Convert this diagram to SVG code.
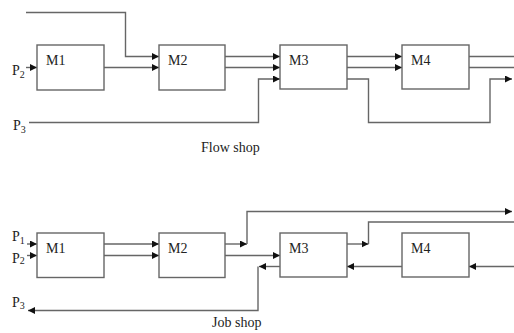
<svg xmlns="http://www.w3.org/2000/svg" width="514" height="333" viewBox="0 0 514 333">
<style>
.box{fill:#fff;stroke:#666;stroke-width:1.4}
.ln{fill:none;stroke:#666;stroke-width:1.4}
.arr{marker-end:url(#ah)}
text{font-family:"Liberation Serif","Times New Roman",serif;fill:#222;font-size:14px}
.sub{font-size:10px}
</style>
<defs>
<marker id="ah" viewBox="0 0 10 10" refX="10" refY="5" markerWidth="7" markerHeight="7" markerUnits="userSpaceOnUse" orient="auto">
<path d="M0,0 L10,5 L0,10 z" fill="#111"/>
</marker>
</defs>
<rect width="514" height="333" fill="#fff"/>
<g id="connectors">
<!-- Flow shop -->
<polyline class="ln arr" points="26,12.5 125.5,12.5 125.5,56.5 159,56.5"/>
<line class="ln arr" x1="26" y1="67.5" x2="37" y2="67.5"/>
<line class="ln arr" x1="104" y1="67.5" x2="159" y2="67.5"/>
<line class="ln arr" x1="225" y1="56.5" x2="280" y2="56.5"/>
<line class="ln arr" x1="225" y1="67.5" x2="280" y2="67.5"/>
<polyline class="ln arr" points="29,122.5 258.5,122.5 258.5,79 280,79"/>
<line class="ln arr" x1="347" y1="56.5" x2="402" y2="56.5"/>
<line class="ln arr" x1="347" y1="67.5" x2="402" y2="67.5"/>
<polyline class="ln arr" points="347,79 368.5,79 368.5,122.5 490,122.5 490,79 512,79"/>
<line class="ln" x1="469" y1="56.5" x2="514" y2="56.5"/>
<line class="ln" x1="469" y1="67.5" x2="514" y2="67.5"/>
<!-- Job shop -->
<line class="ln arr" x1="27" y1="244" x2="37" y2="244"/>
<line class="ln arr" x1="27" y1="255.5" x2="37" y2="255.5"/>
<line class="ln arr" x1="104" y1="244" x2="159" y2="244"/>
<line class="ln arr" x1="104" y1="255.5" x2="159" y2="255.5"/>
<line class="ln arr" x1="225" y1="244" x2="247" y2="244"/>
<polyline class="ln arr" points="247,244 247,211.5 512,211.5"/>
<line class="ln arr" x1="225" y1="255.5" x2="280" y2="255.5"/>
<line class="ln arr" x1="280" y1="266.5" x2="259" y2="266.5"/>
<polyline class="ln arr" points="258,266.5 258,310.5 28,310.5"/>
<line class="ln arr" x1="347" y1="244" x2="368.5" y2="244"/>
<polyline class="ln" points="368.5,244 368.5,222 514,222"/>
<line class="ln arr" x1="402" y1="266.5" x2="347" y2="266.5"/>
<line class="ln arr" x1="514" y1="266.5" x2="469" y2="266.5"/>
</g>
<g id="f-m1"><rect class="box" x="37" y="45" width="67" height="45"/><text x="46" y="65">M1</text></g>
<g id="f-m2"><rect class="box" x="159" y="45" width="66" height="45"/><text x="168" y="65">M2</text></g>
<g id="f-m3"><rect class="box" x="280" y="45" width="67" height="44"/><text x="289" y="65">M3</text></g>
<g id="f-m4"><rect class="box" x="402" y="45" width="67" height="44"/><text x="411" y="65">M4</text></g>
<g id="j-m1"><rect class="box" x="37" y="233" width="67" height="44.5"/><text x="46" y="253">M1</text></g>
<g id="j-m2"><rect class="box" x="159" y="233" width="66" height="44.5"/><text x="168" y="253">M2</text></g>
<g id="j-m3"><rect class="box" x="280" y="233" width="67" height="44"/><text x="289" y="253">M3</text></g>
<g id="j-m4"><rect class="box" x="402" y="233" width="67" height="44"/><text x="411" y="253">M4</text></g>
<g id="labels">
<text x="12" y="75">P<tspan class="sub" dy="3">2</tspan></text>
<text x="13" y="130">P<tspan class="sub" dy="3">3</tspan></text>
<text x="201" y="152">Flow shop</text>
<text x="12" y="241">P<tspan class="sub" dy="3">1</tspan></text>
<text x="12" y="263">P<tspan class="sub" dy="1">2</tspan></text>
<text x="12" y="307">P<tspan class="sub" dy="2">3</tspan></text>
<text x="212" y="327">Job shop</text>
</g>
</svg>
